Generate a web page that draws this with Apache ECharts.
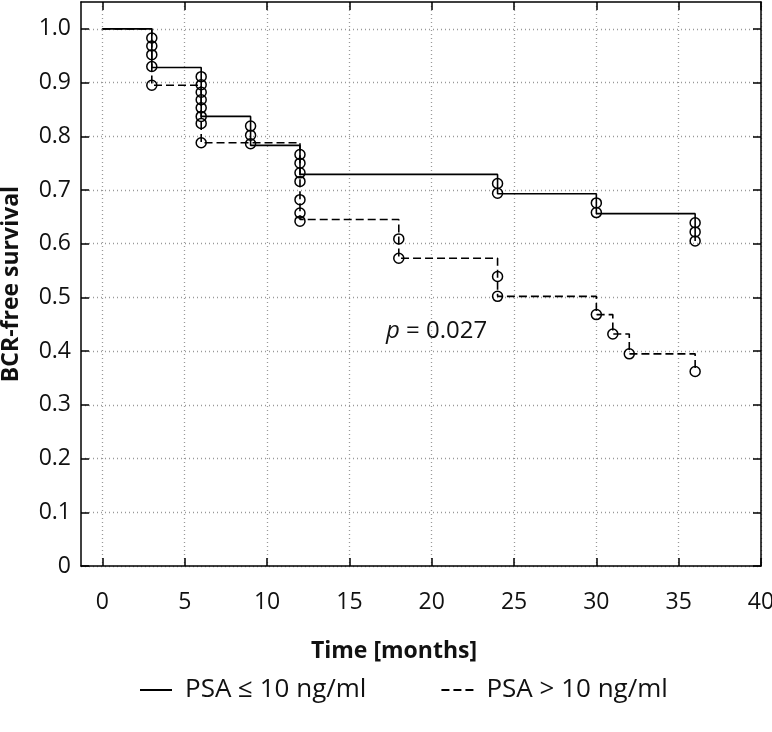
<!DOCTYPE html>
<html><head><meta charset="utf-8">
<script src="https://cdn.jsdelivr.net/npm/echarts@6/dist/echarts.min.js"></script>
<style>html,body{margin:0;padding:0;background:#fff}#c{width:772px;height:732px}</style>
</head><body><div id="c"></div>
<script>
// ---- data ----
const xTicks = [0, 5, 10, 15, 20, 25, 30, 35, 40];
const yTicks = [0, 0.1, 0.2, 0.3, 0.4, 0.5, 0.6, 0.7, 0.8, 0.9, 1.0];
const seriesNames = ['PSA ≤ 10 ng/ml', 'PSA > 10 ng/ml'];
// Kaplan-Meier step curves
const lowTime = [0, 3, 6, 9, 12, 24, 30, 36];
const lowSurv = [1.0, 0.928, 0.837, 0.783, 0.729, 0.693, 0.656, 0.605];
const highTime = [0, 3, 6, 12, 18, 24, 30, 31, 32, 36];
const highSurv = [1.0, 0.895, 0.788, 0.645, 0.573, 0.502, 0.468, 0.432, 0.395, 0.362];
// circle marks
const lowMarkTime = [3, 3, 3, 3, 6, 6, 6, 6, 6, 6, 9, 9, 9, 12, 12, 12, 24, 24, 30, 30, 36, 36, 36];
const lowMarkSurv = [0.983, 0.968, 0.952, 0.930, 0.911, 0.896, 0.882, 0.868, 0.853, 0.837, 0.819, 0.802, 0.786, 0.766, 0.750, 0.732, 0.712, 0.694, 0.676, 0.658, 0.639, 0.622, 0.605];
const highMarkTime = [3, 6, 6, 12, 12, 12, 12, 18, 18, 24, 24, 30, 31, 32, 36];
const highMarkSurv = [0.895, 0.824, 0.788, 0.716, 0.682, 0.657, 0.642, 0.609, 0.573, 0.539, 0.502, 0.468, 0.432, 0.395, 0.362];
// annotation
const pAnnotation = '{i|p} = 0.027';
const pPos = [20.3, 0.437];

// ---- chart ----
const FONT = '"Open Sans", sans-serif';
const TXT = '#111';
const zip = (a, b) => a.map((v, i) => [v, b[i]]);
const chart = echarts.init(document.getElementById('c'), null, { renderer: 'canvas' });
const axisLine = { show: true, onZero: false, lineStyle: { color: '#000', width: 1.5 } };
const tickStyle = { color: '#000', width: 1.5 };
const gridLine = { show: true, lineStyle: { color: '#999', type: [1, 3], width: 1.3 } };
const yFmt = v => (v === 0 ? '0' : v.toFixed(1));
const circleStyle = { color: 'rgba(0,0,0,0)', borderColor: '#000', borderWidth: 1.5, opacity: 1 };

const option = {
  animation: false,
  backgroundColor: '#fff',
  grid: { left: 81, right: 11, top: 2, bottom: 166, outerBoundsMode: 'none', containLabel: false },
  legend: {
    data: seriesNames,
    left: 134, bottom: 24,
    itemWidth: 32, itemHeight: 14, itemGap: 74,
    itemStyle: { opacity: 0 },
    textStyle: { fontFamily: FONT, fontSize: 26, color: TXT, padding: [0, 0, 0, 8] }
  },
  xAxis: [
    {
      type: 'value', min: -1.3, max: 40, position: 'bottom',
      axisLine: axisLine,
      axisTick: { show: true, inside: true, length: 8, customValues: xTicks, lineStyle: tickStyle },
      axisLabel: { customValues: xTicks, margin: 25, fontFamily: FONT, fontSize: 23, color: TXT },
      splitLine: gridLine,
      name: 'Time [months]', nameLocation: 'middle', nameGap: 74,
      nameTextStyle: { fontFamily: FONT, fontSize: 23, fontWeight: 'bold', color: TXT, padding: [0, 54, 0, 0] }
    },
    {
      type: 'value', min: -1.3, max: 40, position: 'top',
      axisLine: axisLine,
      axisTick: { show: true, inside: true, length: 8, customValues: xTicks, lineStyle: tickStyle },
      axisLabel: { show: false },
      splitLine: { show: false }
    }
  ],
  yAxis: [
    {
      type: 'value', min: 0, max: 1.05, position: 'left',
      axisLine: axisLine,
      axisTick: { show: true, inside: true, length: 8, customValues: yTicks, lineStyle: tickStyle },
      axisLabel: { customValues: yTicks, formatter: yFmt, margin: 10, fontFamily: FONT, fontSize: 23, color: TXT },
      splitLine: gridLine,
      name: 'BCR-free survival', nameLocation: 'middle', nameGap: 58,
      nameTextStyle: { fontFamily: FONT, fontSize: 23, fontWeight: 'bold', color: TXT }
    },
    {
      type: 'value', min: 0, max: 1.05, position: 'right',
      axisLine: axisLine,
      axisTick: { show: true, inside: true, length: 8, customValues: yTicks, lineStyle: tickStyle },
      axisLabel: { show: false },
      splitLine: { show: false }
    }
  ],
  series: [
    {
      name: seriesNames[0], type: 'line', step: 'end', symbol: 'none',
      data: zip(lowTime, lowSurv),
      lineStyle: { color: '#000', width: 1.6, type: 'solid' },
      itemStyle: { color: '#000' }, z: 3
    },
    {
      name: seriesNames[1], type: 'line', step: 'end', symbol: 'none',
      data: zip(highTime, highSurv),
      lineStyle: { color: '#000', width: 1.6, type: [8, 4] },
      itemStyle: { color: '#000' }, z: 3
    },
    {
      name: 'marks-low', type: 'scatter', symbol: 'circle', symbolSize: 10,
      data: zip(lowMarkTime, lowMarkSurv), itemStyle: circleStyle, z: 4, silent: true
    },
    {
      name: 'marks-high', type: 'scatter', symbol: 'circle', symbolSize: 10,
      data: zip(highMarkTime, highMarkSurv), itemStyle: circleStyle, z: 4, silent: true
    },
    {
      name: 'p-value', type: 'scatter', symbolSize: 0, silent: true,
      itemStyle: { opacity: 1 },
      data: [pPos],
      label: {
        show: true, position: 'inside', formatter: pAnnotation, opacity: 1,
        fontFamily: FONT, fontSize: 24, color: TXT, textBorderWidth: 0,
        rich: { i: { fontStyle: 'italic', fontFamily: FONT, fontSize: 24, color: TXT, textBorderWidth: 0 } }
      }
    }
  ]
};
chart.setOption(option);
</script>
</body></html>
